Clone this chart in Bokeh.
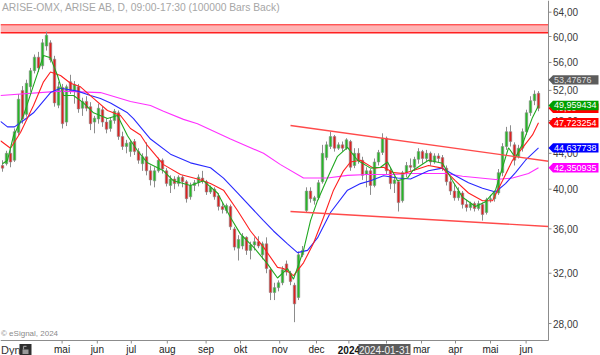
import math
from bokeh.plotting import figure
from bokeh.models import Range1d
from bokeh.core.properties import value
from bokeh.embed import file_html
from bokeh.resources import INLINE

# ---------------- data ----------------
title_text = "ARISE-OMX, ARISE AB, D, 09:00-17:30 (100000 Bars Back)"

opens = [42.6, 42.8, 44.0, 43.2, 46.5, 52.0, 48.8, 52.5, 54.8, 56.8, 55.5, 58.5, 59.0, 56.5, 50.0, 52.4,
         47.8, 53.2, 52.0, 52.5, 49.6, 50.5, 49.8, 47.8, 48.2, 49.4, 47.8, 47.0, 48.0, 49.0, 46.0, 44.8,
         44.2, 45.4, 44.2, 42.8, 43.6, 42.0, 40.9, 42.0, 43.2, 42.0, 40.4, 41.1, 40.6, 41.3, 40.8, 39.2,
         40.4, 40.7, 41.2, 40.8, 39.7, 40.0, 39.3, 38.2, 37.8, 38.2, 36.0, 34.2, 34.4, 35.2, 34.0, 34.5,
         34.8, 33.6, 34.6, 32.3, 30.4, 30.8, 31.2, 32.8, 32.0, 31.0, 30.0, 33.6, 37.8, 39.8, 38.8, 39.1,
         40.8, 43.5, 44.8, 46.0, 44.6, 45.0, 44.6, 45.4, 42.6, 44.0, 43.2, 41.6, 42.0, 40.4, 43.0, 44.1,
         45.8, 42.0, 40.6, 40.8, 38.8, 41.8, 42.6, 42.4, 43.3, 44.2, 43.4, 44.0, 43.0, 43.7, 43.5, 42.3,
         40.8, 39.8, 39.1, 39.6, 38.4, 38.1, 38.5, 38.0, 38.4, 37.6, 38.9, 39.0, 39.6, 41.8, 44.8, 46.6,
         45.0, 43.6, 44.6, 46.6, 49.0, 50.6, 51.6]
highs = [43.2, 44.3, 44.5, 47.0, 51.5, 52.6, 53.5, 55.2, 57.2, 57.6, 59.6, 60.8, 59.4, 57.0, 53.2, 52.9,
         52.8, 54.2, 53.3, 52.9, 51.0, 51.2, 50.4, 48.6, 50.2, 49.8, 48.3, 48.4, 49.5, 49.3, 46.6, 45.6,
         45.6, 45.7, 44.6, 44.0, 45.3, 42.6, 42.4, 43.5, 43.4, 42.3, 41.5, 41.4, 41.5, 41.5, 41.0, 40.7,
         41.0, 41.6, 42.0, 41.0, 40.4, 40.2, 39.6, 38.6, 38.5, 38.4, 36.2, 35.4, 35.6, 35.3, 34.8, 35.2,
         35.3, 34.8, 35.2, 32.5, 31.2, 31.4, 32.6, 33.1, 32.2, 31.2, 33.9, 34.4, 40.2, 40.2, 39.3, 41.0,
         45.0, 45.4, 46.6, 46.2, 45.3, 45.4, 45.8, 45.6, 44.6, 44.6, 43.6, 42.4, 42.2, 43.4, 44.4, 46.4,
         46.0, 42.4, 41.4, 41.0, 42.0, 43.0, 43.4, 43.6, 44.6, 44.4, 44.4, 44.2, 44.0, 44.0, 43.8, 42.6,
         41.2, 40.6, 40.2, 39.8, 38.9, 38.7, 38.7, 38.8, 38.6, 39.1, 39.4, 39.8, 42.2, 45.2, 47.2, 47.4,
         45.3, 45.0, 47.0, 49.4, 51.2, 52.0, 51.9]
lows = [41.9, 42.6, 42.4, 43.0, 46.2, 47.6, 48.5, 51.8, 54.4, 54.6, 55.0, 57.8, 56.0, 49.8, 49.6, 47.0,
        47.3, 51.5, 50.2, 49.0, 48.6, 49.2, 46.8, 46.4, 47.6, 47.2, 46.4, 46.6, 47.6, 45.6, 44.4, 44.0,
        43.6, 43.8, 42.8, 42.0, 41.5, 40.4, 40.2, 41.8, 41.7, 40.3, 39.6, 40.0, 40.3, 40.2, 38.6, 38.9,
        39.8, 40.3, 40.6, 39.4, 39.5, 38.9, 37.8, 37.5, 37.5, 35.9, 34.0, 33.1, 34.1, 33.6, 33.2, 34.0,
        34.2, 33.2, 32.0, 29.8, 29.8, 30.5, 31.0, 31.8, 31.0, 28.1, 29.8, 33.4, 37.6, 38.6, 38.4, 38.9,
        40.6, 43.2, 44.5, 44.2, 44.4, 44.2, 44.4, 42.0, 42.3, 42.8, 41.0, 40.2, 39.4, 40.2, 42.6, 43.8,
        41.6, 40.0, 39.6, 37.7, 38.6, 41.3, 42.0, 42.0, 42.8, 42.8, 43.0, 42.6, 42.8, 43.0, 42.0, 40.4,
        39.4, 38.8, 38.8, 38.0, 37.7, 37.8, 37.7, 37.8, 36.8, 37.4, 38.6, 38.7, 39.4, 41.4, 44.4, 44.8,
        42.6, 43.4, 44.2, 46.2, 48.6, 50.0, 49.2]
closes = [42.3, 44.0, 43.0, 46.6, 50.8, 48.2, 53.0, 54.8, 56.8, 55.2, 59.0, 60.2, 56.4, 50.3, 52.5, 47.6,
          52.5, 52.0, 52.8, 49.5, 50.5, 49.6, 47.6, 48.3, 49.6, 47.8, 46.9, 48.0, 49.2, 46.0, 44.8, 45.2,
          45.3, 44.2, 43.2, 43.6, 42.0, 41.0, 42.0, 43.2, 42.2, 40.6, 41.1, 40.6, 41.3, 40.8, 39.0, 40.4,
          40.7, 41.3, 40.9, 39.7, 40.2, 39.2, 38.2, 37.9, 38.3, 36.2, 34.3, 35.0, 35.3, 34.0, 34.5, 34.8,
          34.4, 34.6, 32.4, 30.4, 30.8, 31.2, 32.3, 32.1, 31.3, 29.5, 33.6, 34.0, 39.8, 39.0, 39.1, 40.7,
          44.0, 45.0, 46.0, 44.6, 45.0, 44.6, 45.6, 42.4, 44.0, 43.2, 41.5, 42.0, 40.4, 43.0, 44.1, 45.8,
          42.0, 40.6, 41.0, 38.6, 41.8, 42.6, 42.4, 43.3, 44.2, 43.4, 44.0, 43.0, 43.7, 43.4, 42.4, 40.8,
          39.8, 39.1, 39.8, 38.4, 38.1, 38.5, 38.0, 38.5, 37.4, 38.9, 39.0, 39.6, 41.8, 44.8, 46.6, 45.4,
          43.2, 44.6, 46.6, 49.0, 50.6, 51.5, 49.6]

green_idx = [0, 1.25, 2.75, 5.25, 7.75, 10.25, 12, 13.75, 15.25, 17.75, 20.25, 22.75, 26.25, 28.75, 31.25,
             33.75, 36.25, 40.25, 42.75, 47, 50.25, 53.75, 57, 59.5, 62.75, 66.25, 68.75, 71.25, 72.75,
             75.25, 77, 78.75, 81.25, 83.75, 86.25, 88.75, 92, 94.5, 96.25, 98.75, 101.25, 102.5, 106.5,
             110, 112.5, 115, 118.25, 120.75, 123.25, 125, 126.5, 128.25, 130, 132.5, 134]
green_val = [42.8, 43.2, 46.1, 48.65, 52.7, 57.05, 56.7, 54.1, 51.3, 51.3, 50.3, 49.0, 48.25, 48.65, 46.1,
             44.3, 42.9, 42.0, 40.9, 40.4, 40.9, 39.6, 37.1, 35.5, 34.3, 32.8, 31.6, 32.4, 31.5,
             34.0, 36.8, 38.8, 41.2, 43.65, 44.7, 43.2, 42.3, 42.4, 43.0, 40.9, 41.2, 42.0, 43.2,
             42.85, 40.9, 39.15, 38.2, 38.7, 39.9, 42.4, 44.65, 43.5, 45.1, 48.4, 49.959434]

red_idx = [-0.5, 2, 4.5, 7.75, 10.25, 12, 14.5, 17, 19.5, 22.75, 26.25, 29.5, 32, 34.5, 36.25, 40.25, 44.5,
           48.75, 52, 55.25, 58.75, 62, 65.25, 68.75, 70.25, 72.75, 75.25, 77.75, 80.25, 82.75, 85.25, 87,
           89.5, 92.75, 95.25, 97.75, 100.25, 102.5, 106.5, 110, 113.25, 116.5, 120, 122.5, 125, 127.5,
           130, 132.5, 134]
red_val = [45.5, 44.6, 46.5, 49.95, 53.2, 54.6, 54.1, 53.0, 52.5, 50.9, 49.3, 48.65, 47.0, 46.2, 44.9, 42.7,
           41.6, 41.1, 40.6, 39.9, 37.8, 35.8, 34.3, 32.5, 32.4, 31.8, 32.9, 34.65, 37.1, 39.9, 42.0, 43.0,
           43.2, 42.3, 42.4, 41.8, 41.7, 42.0, 42.6, 42.3, 40.9, 39.6, 38.8, 38.8, 40.9, 43.2,
           44.65, 46.2, 47.723254]

blue_idx = [-0.5, 1.25, 3, 5.25, 7.75, 12, 14.5, 18.75, 22, 24.5, 27, 31.25, 32.75, 37, 42, 47, 52, 55.25,
            58.75, 65.25, 67.75, 71.25, 73.75, 76.25, 78.75, 82, 86.25, 89.5, 92, 95.25, 98.75, 102,
            106.5, 110, 113.25, 116.5, 120, 123.25, 125.75, 128.25, 130.75, 134]
blue_val = [47.9, 47.2, 47.2, 48.0, 49.0, 51.7, 52.3, 51.9, 51.3, 50.9, 50.3, 49.0, 48.25, 45.7, 43.9, 42.9,
            42.35, 41.2, 39.6, 36.8, 35.8, 34.6, 33.8, 34.0, 35.15, 37.6, 39.9, 40.6, 40.9, 41.45, 41.2,
            41.1, 42.0, 42.3, 41.45, 40.7, 40.1, 39.7, 40.6, 41.8, 43.2, 44.637738]

magenta_idx = [-0.5, 14.5, 24.5, 32, 37, 40.25, 45.25, 48.75, 57, 65.25, 69.5, 75.25, 81.25, 86.25, 91.25,
               97.75, 102, 106.5, 110.75, 115, 123.25, 127.5, 131.5, 134]
magenta_val = [51.3, 51.9, 51.7, 50.5, 49.95, 49.2, 48.15, 47.6, 45.7, 44.0, 42.7, 41.2, 41.2, 41.5, 41.6,
               41.6, 41.7, 41.7, 41.7, 41.4, 41.05, 41.2, 41.7, 42.350935]

channel_idx = [72, 136.5]
channel_upper = [47.37, 43.09]
channel_lower = [37.70, 36.23]

resistance_low, resistance_high = 60.6, 61.9

y_ticks = [28, 32, 36, 40, 44, 48, 52, 56, 60, 64]
month_pos = [14.9, 23.7, 32.2, 41.2, 50.9, 59.5, 69.3, 78.5, 86.6, 96.0, 104.75, 113.25, 122.0, 130.9]
month_labels = ["mai", "jun", "jul", "aug", "sep", "okt", "nov", "dec", "2024", "feb", "mar", "apr", "mai", "jun"]
crosshair_date = "2024-01-31"
crosshair_price = 53.47676

# ---------------- layout helpers (pixel -> data) ----------------
W, H = 600, 355
PXB = 4.0            # pixels per bar
X0 = -0.5
Y_TOP = 66.02        # price at the top edge
K = 376.6            # pixels per unit of ln(price)
AX_X = 548           # right axis line (px)
AX_Y = 340           # bottom axis line (px)
FONT = value("Liberation Sans")


def xd(px):
    return X0 + px / PXB


def yd(py):
    return Y_TOP * math.exp(-py / K)


def ypx(v):
    return K * math.log(Y_TOP / v)


p = figure(width=W, height=H, x_range=Range1d(xd(0), xd(W)), y_range=Range1d(yd(H), yd(0)),
           y_axis_type="log", x_axis_location=None, y_axis_location=None,
           output_backend="svg", toolbar_location=None, min_border=0,
           background_fill_color="white", border_fill_color="white", outline_line_color=None)
p.grid.visible = False

# resistance band
p.quad(left=[xd(0)], right=[xd(AX_X)], bottom=[resistance_low], top=[resistance_high],
       fill_color="#ffb4b4", line_color=None)
p.segment(x0=[xd(0)] * 2, x1=[xd(AX_X)] * 2, y0=[resistance_low, resistance_high],
          y1=[resistance_low, resistance_high], line_color="#ff2020", line_width=[1.6, 1.0])

# candles
n = len(closes)
idx = list(range(n))
tops = [max(o, c) for o, c in zip(opens, closes)]
bots = [min(o, c) for o, c in zip(opens, closes)]
cols = ["#26b826" if c >= o else "#dd2020" for o, c in zip(opens, closes)]
p.segment(x0=idx, x1=idx, y0=highs, y1=lows, line_color="#8c8c8c", line_width=1)
p.vbar(x=idx, width=0.62, top=tops, bottom=bots, fill_color=cols, line_color="#8c8c8c", line_width=0.6)

# moving averages
p.line(magenta_idx, magenta_val, line_color="#ff30ff", line_width=1.1)
p.line(blue_idx, blue_val, line_color="#2a2aff", line_width=1.1)
p.line(red_idx, red_val, line_color="#ff2020", line_width=1.1)
p.line(green_idx, green_val, line_color="#20a820", line_width=1.1)

# channel
p.line(channel_idx, channel_upper, line_color="#ff4a4a", line_width=1.4)
p.line(channel_idx, channel_lower, line_color="#ff4a4a", line_width=1.4)

# ---- axes (drawn inside a full-canvas frame) ----
AXC = "#8c8c8c"
p.segment(x0=[xd(AX_X)], x1=[xd(AX_X)], y0=[yd(0)], y1=[yd(AX_Y)], line_color=AXC, line_width=1)
p.segment(x0=[xd(0)], x1=[xd(AX_X)], y0=[yd(AX_Y)], y1=[yd(AX_Y)], line_color=AXC, line_width=1)
# y ticks + labels
p.segment(x0=[xd(AX_X)] * len(y_ticks), x1=[xd(AX_X + 3)] * len(y_ticks), y0=y_ticks, y1=y_ticks,
          line_color=AXC, line_width=1)
p.text(x=[xd(AX_X + 4.5)] * len(y_ticks), y=y_ticks,
       text=[f"{t:.2f}".replace(".", ",") for t in y_ticks],
       text_font=FONT, text_font_size="10px", text_color="#3a3a3a",
       text_baseline="middle", text_align="left")
# x ticks + labels
p.segment(x0=month_pos, x1=month_pos, y0=[yd(AX_Y)] * len(month_pos), y1=[yd(AX_Y + 3)] * len(month_pos),
          line_color=AXC, line_width=1)
reg = [(m, l) for m, l in zip(month_pos, month_labels) if l != "2024"]
p.text(x=[m for m, _ in reg], y=[yd(349.3)] * len(reg), text=[l for _, l in reg],
       text_font=FONT, text_font_size="10px", text_color="#222222",
       text_baseline="middle", text_align="center")
yr = [(m, l) for m, l in zip(month_pos, month_labels) if l == "2024"]
p.text(x=[m for m, _ in yr], y=[yd(349.3)] * len(yr), text=[l for _, l in yr],
       text_font=FONT, text_font_size="10px", text_font_style="bold", text_color="#111111",
       text_baseline="middle", text_align="center")

# crosshair date box on the time axis
p.quad(left=[xd(358)], right=[xd(410)], bottom=[yd(355)], top=[yd(343.5)], fill_color="#5c5c5c", line_color=None)
p.text(x=[xd(384)], y=[yd(349.3)], text=[crosshair_date], text_font=FONT, text_font_size="10px",
       text_color="#f2f2f2", text_baseline="middle", text_align="center")

# title, copyright, Dyn + lock
p.text(x=[xd(1.5)], y=[yd(6.5)], text=[title_text], text_font=FONT, text_font_size="10.3px",
       text_color="#a6a6a6", text_baseline="middle", text_align="left")
p.text(x=[xd(0.5)], y=[yd(333)], text=["\u00a9 eSignal, 2024"], text_font=FONT, text_font_size="8px",
       text_color="#8a8a8a", text_baseline="middle", text_align="left")
p.text(x=[xd(0.5)], y=[yd(349.3)], text=["Dyn"], text_font=FONT, text_font_size="11px",
       text_color="#333333", text_baseline="middle", text_align="left")
p.quad(left=[xd(19)], right=[xd(31)], bottom=[yd(355)], top=[yd(343.5)], fill_color="#2e2e2e", line_color=None)
p.quad(left=[xd(22)], right=[xd(28)], bottom=[yd(353.5)], top=[yd(349)], fill_color="#9a9a9a", line_color=None)
p.segment(x0=[xd(23), xd(23)], x1=[xd(23), xd(26)], y0=[yd(349), yd(345.8)], y1=[yd(345.8), yd(345.8)],
          line_color="#9a9a9a", line_width=1.2)


# value tags on the price axis
def fmt(v, d):
    return f"{v:.{d}f}".replace(".", ",")


tags = [
    (crosshair_price, fmt(crosshair_price, 5), "#5c5c5c", "#dedede"),
    (closes[-1], fmt(closes[-1], 2), "#ff0000", "white"),
    (green_val[-1], fmt(green_val[-1], 6), "#00a000", "white"),
    (red_val[-1], fmt(red_val[-1], 6), "#ff0000", "white"),
    (blue_val[-1], fmt(blue_val[-1], 6), "#0000ff", "white"),
    (magenta_val[-1], fmt(magenta_val[-1], 6), "#ff00ff", "white"),
]
HH = 4.7
for v, t, bg, fg in tags:
    c = ypx(v)
    xs = [xd(AX_X), xd(AX_X + 4.5), xd(598), xd(598), xd(AX_X + 4.5)]
    ys = [yd(c), yd(c - HH), yd(c - HH), yd(c + HH), yd(c + HH)]
    p.patch(xs, ys, fill_color=bg, line_color=None)
    p.text(x=[xd(AX_X + 5.5)], y=[v], text=[t], text_font=FONT, text_font_size="9px",
           text_color=fg, text_baseline="middle", text_align="left")

open("out.html", "w").write(file_html(p, INLINE))
